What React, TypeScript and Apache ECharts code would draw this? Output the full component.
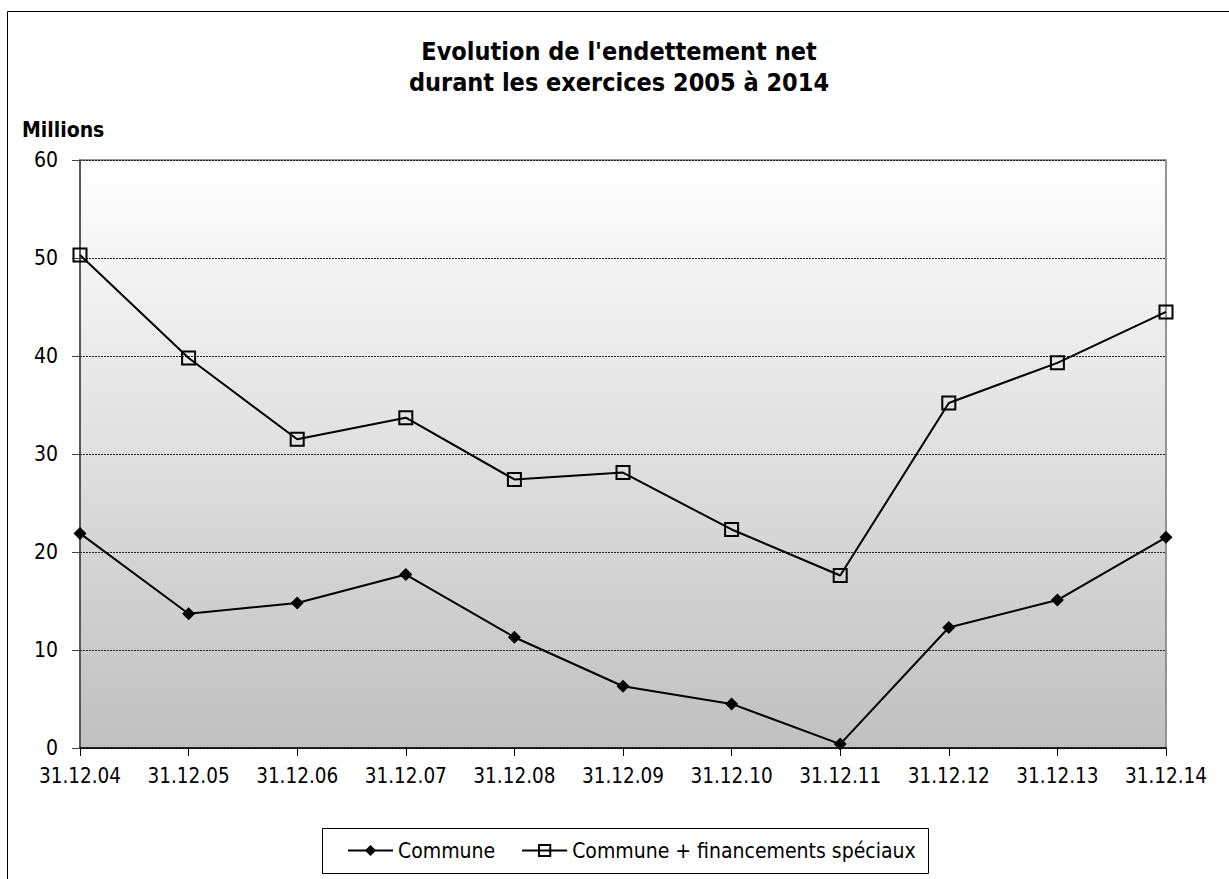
import React, { useEffect, useRef } from "react";
import * as echarts from "echarts";

const categories = ["31.12.04", "31.12.05", "31.12.06", "31.12.07", "31.12.08", "31.12.09", "31.12.10", "31.12.11", "31.12.12", "31.12.13", "31.12.14"];
const commune = [21.9, 13.7, 14.8, 17.7, 11.3, 6.3, 4.5, 0.4, 12.3, 15.1, 21.5];
const communeFS = [50.3, 39.8, 31.5, 33.7, 27.4, 28.1, 22.3, 17.6, 35.2, 39.3, 44.5];
const seriesNames = ["Commune", "Commune + financements spéciaux"];
const titleText = "Evolution de l'endettement net\ndurant les exercices 2005 à 2014";
const yName = "Millions";

const FONT = "'DejaVu Sans Condensed', 'DejaVu Sans', sans-serif";

export default function App() {
  const ref = useRef<HTMLDivElement>(null);
  useEffect(() => {
    const chart = echarts.init(ref.current!, null, { renderer: "svg" });
    chart.setOption({
      animation: false,
      backgroundColor: "#ffffff",
      textStyle: { fontFamily: FONT },
      title: {
        text: titleText,
        left: 614,
        textAlign: "center",
        top: 31,
        textStyle: { fontFamily: FONT, fontWeight: "bold", fontSize: 25, lineHeight: 31, color: "#000" },
      },
      graphic: [
        {
          type: "rect",
          shape: { x: 7.5, y: 11.5, width: 1260, height: 900 },
          style: { fill: "none", stroke: "#000", lineWidth: 1 },
          silent: true,
        },
        {
          type: "rect",
          shape: { x: 322.5, y: 828.5, width: 606, height: 45 },
          style: { fill: "#fff", stroke: "#000", lineWidth: 1 },
          z: 0,
          silent: true,
        },
        {
          type: "rect",
          shape: { x: 80, y: 160, width: 1086, height: 588 },
          style: { fill: "none", stroke: "#888888", lineWidth: 1.5 },
          z: 1,
          silent: true,
        },
      ],
      legend: {
        top: 840,
        left: 347,
        padding: 0,
        itemGap: 26,
        itemWidth: 45,
        itemHeight: 14,
        data: seriesNames,
        textStyle: { fontFamily: FONT, fontSize: 21, color: "#000" },
      },
      grid: {
        left: 80,
        right: 1229 - 1166,
        top: 160,
        bottom: 879 - 748,
        show: true,
        borderColor: "#888888",
        borderWidth: 1,
        backgroundColor: new echarts.graphic.LinearGradient(0, 0, 0, 1, [
          { offset: 0, color: "#ffffff" },
          { offset: 1, color: "#c0c0c0" },
        ]),
      },
      xAxis: {
        type: "category",
        data: categories,
        boundaryGap: false,
        z: 5,
        axisLine: { lineStyle: { color: "#000", width: 1.5 } },
        axisTick: { show: true, length: 8, interval: 0, lineStyle: { color: "#000" } },
        axisLabel: { fontFamily: FONT, fontSize: 20.5, color: "#000", margin: 17, interval: 0, hideOverlap: false },
      },
      yAxis: {
        type: "value",
        min: 0,
        max: 60,
        interval: 10,
        z: 5,
        name: yName,
        nameLocation: "end",
        nameGap: 20,
        nameTextStyle: { fontFamily: FONT, fontWeight: "bold", fontSize: 21, color: "#000", align: "left", padding: [0, 0, 0, -58] },
        axisLine: { show: true, lineStyle: { color: "#444", width: 1.5 } },
        axisTick: { show: true, length: 8, lineStyle: { color: "#444" } },
        axisLabel: { fontFamily: FONT, fontSize: 21, color: "#000", margin: 22 },
        splitLine: { show: true, lineStyle: { color: "#222", type: [2, 1], width: 1 } },
      },
      series: [
        {
          name: seriesNames[0],
          type: "line",
          z: 10,
          data: commune,
          symbol: "diamond",
          symbolSize: 13,
          lineStyle: { color: "#000", width: 2 },
          itemStyle: { color: "#000" },
        },
        {
          name: seriesNames[1],
          type: "line",
          z: 10,
          data: communeFS,
          symbol: "rect",
          symbolSize: 13,
          lineStyle: { color: "#000", width: 2 },
          itemStyle: { color: "rgba(255,255,255,0)", borderColor: "#000", borderWidth: 2 },
        },
      ],
    });
    return () => chart.dispose();
  }, []);
  return <div ref={ref} style={{ position: "fixed", left: 0, top: 0, width: 1229, height: 879 }} />;
}
